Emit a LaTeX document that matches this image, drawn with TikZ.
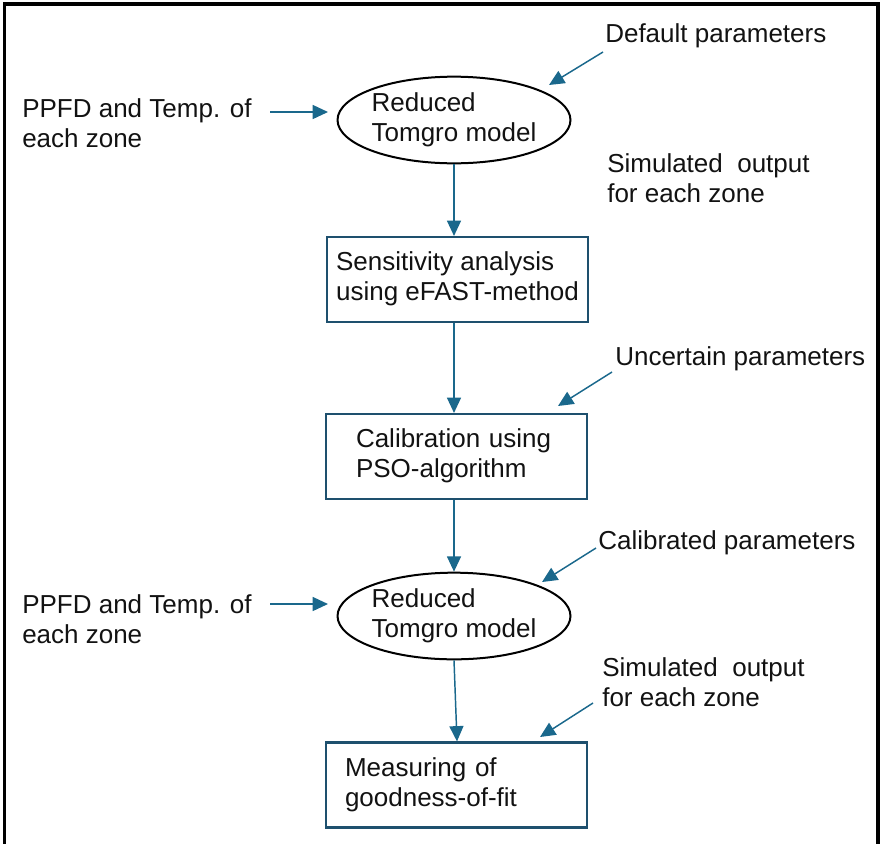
\documentclass[tikz,border=0pt]{standalone}
\usepackage{fontspec}
\setmainfont{Liberation Sans}
\usetikzlibrary{arrows.meta,shapes.geometric}
\definecolor{arrowc}{RGB}{26,104,140}
\definecolor{boxc}{RGB}{30,80,110}
\begin{document}
\begin{tikzpicture}[x=0.75pt,y=-0.75pt,
  every node/.style={font=\fontsize{19.5}{22.5}\selectfont, text=black!93},
  model/.style={ellipse,draw=black,line width=1.5pt,minimum width=169.5pt,minimum height=65pt,inner sep=0pt,align=left},
  procbox/.style={draw=boxc,line width=1.6pt,minimum width=195.75pt,minimum height=63.75pt,inner ysep=0pt,align=left},
  lbl/.style={anchor=west,align=left,inner sep=0pt},
  flow/.style={draw=arrowc,line width=1.1pt,-{Triangle[length=11.5pt,width=10.5pt]}}]
\useasboundingbox (0,0) rectangle (880,843);
% outer frame
\draw[line width=2.6pt,black] (4.5,4) rectangle (878,900);

% main nodes
\node[model] (e1) at (454,120) {\strut Reduced\\\strut Tomgro model};
\node[procbox] (b1) at (457.5,279.5) {\strut Sensitivity analysis\\\strut using eFAST-method};
\node[procbox,text width=150.75pt,inner xsep=22.5pt] (b2) at (456.5,456.5) {\strut Calibration using\\\strut PSO-algorithm};
\node[model] (e2) at (454,616) {\strut Reduced\\\strut Tomgro model};
\node[procbox,text width=167.25pt,inner xsep=14.25pt] (b3) at (456.5,785) {\strut Measuring of\\\strut goodness-of-fit};

% side labels
\node[lbl] (ppfd1) at (22,126) {\strut PPFD and Temp. of\\\strut each zone};
\node[lbl] (ppfd2) at (22,622) {\strut PPFD and Temp. of\\\strut each zone};
\node[lbl] (def) at (605,36) {\strut Default parameters};
\node[lbl] (sim1) at (607,181) {\strut Simulated~ output\\\strut for each zone};
\node[lbl] (unc) at (615,359) {\strut Uncertain parameters};
\node[lbl] (cal) at (598,543) {\strut Calibrated parameters};
\node[lbl] (sim2) at (602,685) {\strut Simulated~ output\\\strut for each zone};

% arrow end points
\coordinate (l1s) at (270,112);
\coordinate (l1e) at (328,112);
\coordinate (l2s) at (270,604);
\coordinate (l2e) at (328,604);
\coordinate (t1) at (549,85);
\coordinate (t2) at (558,406);
\coordinate (t3) at (542,582);
\coordinate (t4) at (540,737);

% flow arrows
\draw[flow] (e1.south) -- (e1.south |- b1.north);
\draw[flow] (e1.south |- b1.south) -- (e1.south |- b2.north);
\draw[flow] (e1.south |- b2.south) -- (e2.north);
\draw[flow] (e2.south) -- ([xshift=2.25pt]e2.south |- b3.north);

% input arrows
\draw[flow] (l1s) -- (l1e);
\draw[flow] (l2s) -- (l2e);
\draw[flow] ([shift={(-2,16)}]def.west) -- (t1);
\draw[flow] ([shift={(-3,13)}]unc.west) -- (t2);
\draw[flow] ([shift={(-2,5)}]cal.west) -- (t3);
\draw[flow] ([shift={(-9,18)}]sim2.west) -- (t4);
\end{tikzpicture}
\end{document}
